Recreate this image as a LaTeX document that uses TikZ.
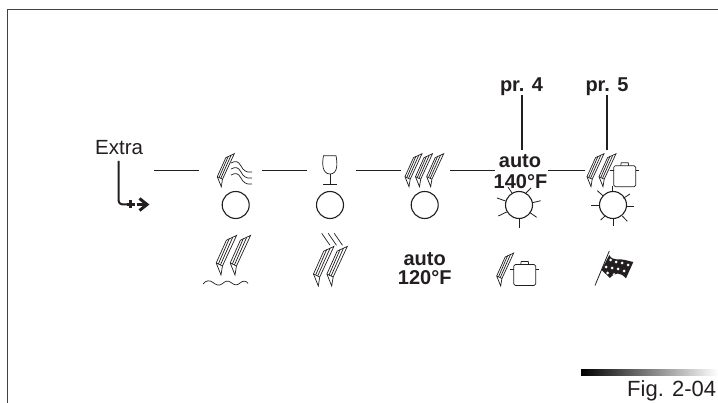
\documentclass[tikz,border=0pt]{standalone}
\usepackage{fontspec}
\setmainfont{Liberation Sans}
\definecolor{ink}{HTML}{231F20}
\tikzset{
  x=1pt,y=-1pt,
  txt/.style={anchor=base west,inner sep=0pt,text=ink},
  btxt/.style={anchor=base,inner sep=0pt,text=ink,font=\fontsize{20}{22}\selectfont\bfseries},
  conn/.style={draw=ink,line width=1pt},
  lead/.style={draw=ink,line width=2pt},
  thin line/.style={draw=ink,line width=0.7pt},
  lamp/.style={draw=ink,line width=1.1pt,circle,minimum size=27pt,inner sep=0pt},
  ray/.style={draw=ink,line width=0.8pt},
  pics/blade/.style={code={
    \draw[thin line,line join=miter] (0,0) -- (-4,-10) -- (4.5,-29) -- (13,-33) -- (1.2,-7.5) -- cycle;
    \draw[thin line] (-4,-10) -- (1.2,-7.5);
    \draw[thin line] (-2.2,-9.2) -- (7,-30.5);
    \draw[thin line] (-0.5,-8.4) -- (9.8,-31.5);
  }},
  pics/pot/.style={code={
    \draw[thin line,rounded corners=1.6pt] (0,0) rectangle (22,21);
    \draw[thin line] (7,0) -- (7.5,-3) -- (14.5,-3) -- (15,0);
    \draw[thin line] (-3.5,4.5) -- (0,4.5) (22,4.5) -- (25.5,4.5);
  }},
}
\begin{document}
\begin{tikzpicture}
\useasboundingbox (0,0) rectangle (718,403);
\fill[white] (0,0) rectangle (718,403);
% frame
\draw[draw=ink!85,line width=1.3pt] (7.5,403) -- (7.5,9.5) -- (718,9.5);
% texts
\node[txt,font=\fontsize{20.5}{22}\selectfont] (extra) at (95,155) {Extra};
\node[txt,font=\fontsize{22}{24}\selectfont] (fig) at (627,396) {Fig. 2-04};
\node[btxt] (pr4) at (521.5,91.5) {pr. 4};
\node[btxt] (pr5) at (607,91.5) {pr. 5};
\node[btxt] (auto140) at (520,167.5) {auto};
\node[btxt] (t140) at (520.5,188.5) {140°F};
\node[btxt] (auto120) at (424.7,266) {auto};
\node[btxt] (t120) at (424.7,285) {120°F};
% leads
\coordinate (p4top) at (521.7,95); \coordinate (p4bot) at (521.7,150);
\coordinate (p5top) at (607,95); \coordinate (p5bot) at (607,150);
\draw[lead] (p4top) -- (p4bot);
\draw[lead] (p5top) -- (p5bot);
% connectors
\foreach \a/\b/\y in {154/199/171,262/307/170.7,356/401/170.3,450/495/170.3,548/585/170.3}
  \draw[conn] (\a,\y) -- (\b,\y);
% extra arrow
\coordinate (ea) at (118.5,161); \coordinate (eb) at (118.5,204.5);
\draw[lead,rounded corners=4pt] (ea) -- (eb) -- (127,204.5);
\draw[draw=ink,line width=2.8pt] (127,204.5) -- (134.5,204.5);
\draw[draw=ink,line width=2.6pt] (130.7,200.5) -- (130.7,208.5);
\draw[draw=ink,line width=2.8pt] (136.5,204.5) -- (147,204.5);
\draw[draw=ink,line width=3pt,line cap=butt,line join=miter] (139.5,198.5) -- (147,204.5) -- (139.5,210.5);
% lamps
\foreach \n/\x in {a/235.7,b/330,c/424.7,d/519,e/613}
  \node[lamp] (lamp\n) at (\x,205) {};
% sun rays
\foreach \xa/\ya/\xb/\yb in {-11/-18/-7/-12, 12/-17/7/-12, -22/-7/-13.5/-4, 21.7/-4.3/13.5/-2.3, -20.7/11/-12.3/7, 17.7/12.3/11/7.7, 0/23.3/0/14}
  \draw[ray] (519+\xa,205+\ya) -- (519+\xb,205+\yb);
\foreach \xa/\ya/\xb/\yb in {-0.7/-19/-0.7/-14, 17/-11/10.3/-6.7, 21/1.7/13.7/1.7, 14.3/16.3/9.3/11, 0/20.7/0/14, -12.3/15/-8/11, -22/0/-13.7/0, -15.7/-14.3/-9.7/-9}
  \draw[ray] (613+\xa,205+\ya) -- (613+\xb,205+\yb);
% column 1 top
\pic at (221.3,186.7) {blade};
\foreach \dy in {0,6,12}
  \draw[thin line] (231,163+\dy) .. controls (236,160.5+\dy) and (238,161+\dy) .. (241,166+\dy)
     .. controls (243,170+\dy) and (246,173+\dy) .. (252,172+\dy);
% column 1 bottom
\pic[scale=1.2] at (221,275) {blade};
\pic[scale=1.2] at (235,275) {blade};
\draw[thin line] (203,284) .. controls (206,280) and (210,280) .. (213,282.5)
  .. controls (216,285) and (219,286) .. (222,284)
  .. controls (225,281) and (228,280) .. (231,282.5)
  .. controls (234,285) and (237,286) .. (240,283)
  .. controls (243,280.5) and (246,280.5) .. (248,283.5);
% glass
\draw[thin line] (323.5,155.7) -- (336,155.7) .. controls (337.5,163) and (338,174) .. (330,174)
   .. controls (322,174) and (322,163) .. (323.5,155.7) -- cycle;
\draw[thin line] (330,174) -- (330,184.3) (323,184.5) -- (337,184.5);
% column 2 bottom
\pic[scale=1.2] at (318.3,286) {blade};
\pic[scale=1.2] at (331.7,286) {blade};
\foreach \dx in {0,6.5,12.5}
  \draw[thin line] (321.7+\dx,233.3) -- (330+\dx,245.3);
% column 3
\foreach \x in {409,419.5,430.7}
  \pic at (\x,186.7) {blade};
% column 4 bottom
\pic at (500.7,286) {blade};
\pic at (513.7,264.5) {pot};
% column 5 top
\pic at (591,186.7) {blade};
\pic at (603,186.7) {blade};
\pic at (613.7,165.7) {pot};
% flag
\draw[draw=ink,line width=0.8pt] (595,285.5) -- (609.3,251);
\begin{scope}
\clip (601.5,270) -- (609.3,255) .. controls (613,262) and (620,258) .. (625,260) -- (633.3,262)
   -- (626,278.3) .. controls (620,272) and (615,272) .. (610,278) -- cycle;
\fill[ink] (598,250) rectangle (636,280);
\foreach \x/\y in {610.5/260,616/262,622/263,628/265,606/267,612/268,618/269,624/271,607.5/273,614/274.5,620/276}
  \fill[white] (\x,\y) circle (1.5);
\end{scope}
% gradient bar
\shade[left color=black,right color=white,shading=axis,shading angle=90] (581,370) rectangle (718,376);
\end{tikzpicture}
\end{document}
